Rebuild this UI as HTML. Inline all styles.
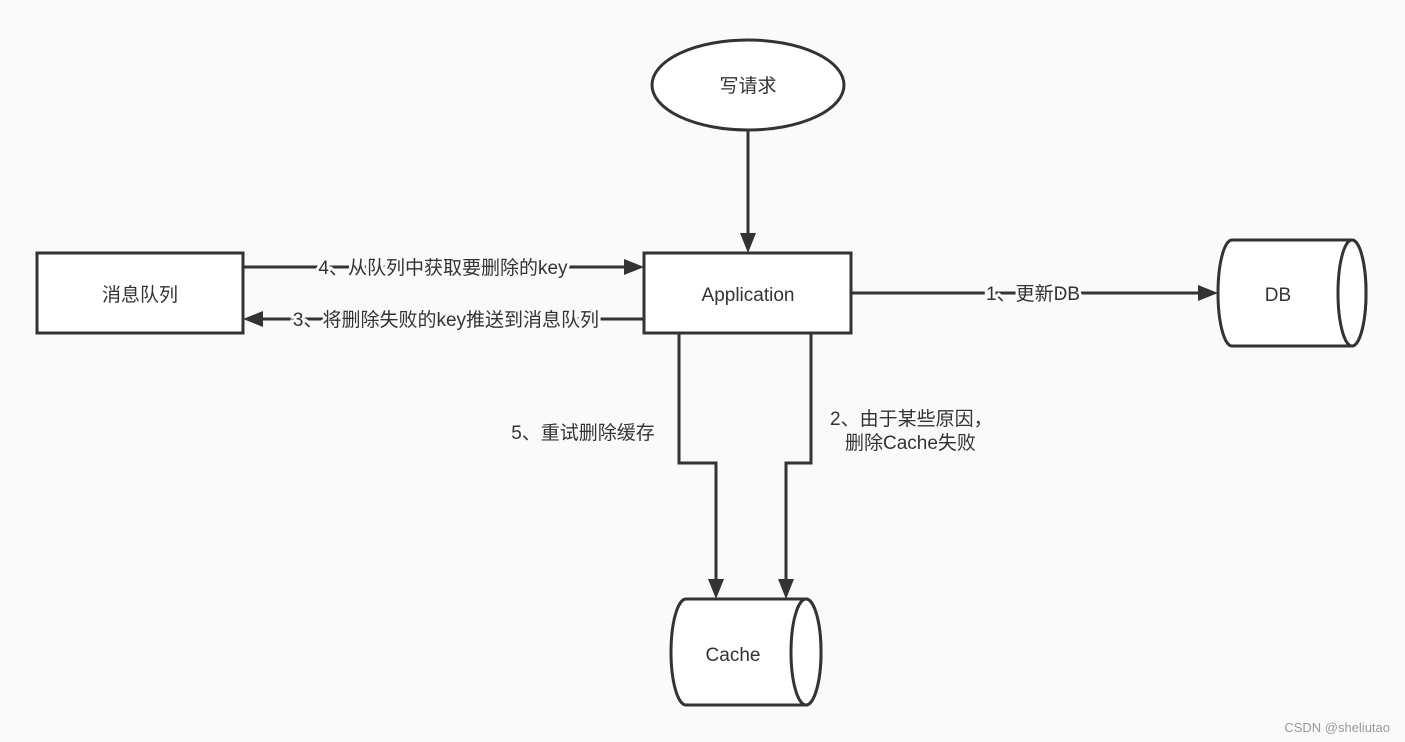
<!DOCTYPE html>
<html><head><meta charset="utf-8"><style>
html,body{margin:0;padding:0;background:#fafafa;}
svg{display:block;font-family:"Liberation Sans","Noto Sans CJK SC",sans-serif;}
.bg{paint-order:stroke;stroke:#fafafa;stroke-width:6px;}
</style></head><body>
<svg width="1405" height="742" viewBox="0 0 1405 742" xmlns="http://www.w3.org/2000/svg">
<rect width="1405" height="742" fill="#fafafa"/>
<g stroke="#333" stroke-width="3" fill="#fff">
<ellipse cx="748" cy="85" rx="96" ry="45"/>
<rect x="644" y="253" width="207" height="80"/>
<rect x="37" y="253" width="206" height="80"/>
<path d="M1232,240 L1352,240 A14,53 0 0 1 1352,346 L1232,346 A14,53 0 0 1 1232,240 Z"/>
<ellipse cx="1352" cy="293" rx="14" ry="53"/>
<path d="M686,599 L806,599 A15,53 0 0 1 806,705 L686,705 A15,53 0 0 1 686,599 Z"/>
<ellipse cx="806" cy="652" rx="15" ry="53"/>
</g>
<g stroke="#333" stroke-width="3" fill="none">
<line x1="748" y1="130" x2="748" y2="240"/>
<line x1="243" y1="267" x2="630" y2="267"/>
<line x1="644" y1="319" x2="258" y2="319"/>
<line x1="851" y1="293" x2="1204" y2="293"/>
<polyline points="679,333 679,463 716,463 716,585"/>
<polyline points="811,333 811,463 786,463 786,585"/>
</g>
<g fill="#333">
<path d="M740,233 L756,233 L748,253 Z"/>
<path d="M624,259 L644,267 L624,275 Z"/>
<path d="M263,311 L243,319 L263,327 Z"/>
<path d="M1198,285 L1218,293 L1198,301 Z"/>
<path d="M708,579 L724,579 L716,599 Z"/>
<path d="M778,579 L794,579 L786,599 Z"/>
</g>
<g fill="#333" font-size="19" text-anchor="middle">
<text x="748" y="92">写请求</text>
<text x="748" y="301">Application</text>
<text x="140" y="301">消息队列</text>
<text x="1278" y="301">DB</text>
<text x="733" y="661">Cache</text>
</g>
<g font-size="19" fill="#333">
<text class="bg" x="443" y="274" text-anchor="middle">4、从队列中获取要删除的key</text>
<text class="bg" x="446" y="326" text-anchor="middle">3、将删除失败的key推送到消息队列</text>
<text class="bg" x="1033" y="300" text-anchor="middle">1、更新DB</text>
<text x="583" y="439" text-anchor="middle">5、重试删除缓存</text>
<text x="830" y="425">2、由于某些原因，</text>
<text x="845" y="449">删除Cache失败</text>
</g>
<text x="1390" y="732" font-size="13" fill="#999" text-anchor="end">CSDN @sheliutao</text>
</svg>
</body></html>
